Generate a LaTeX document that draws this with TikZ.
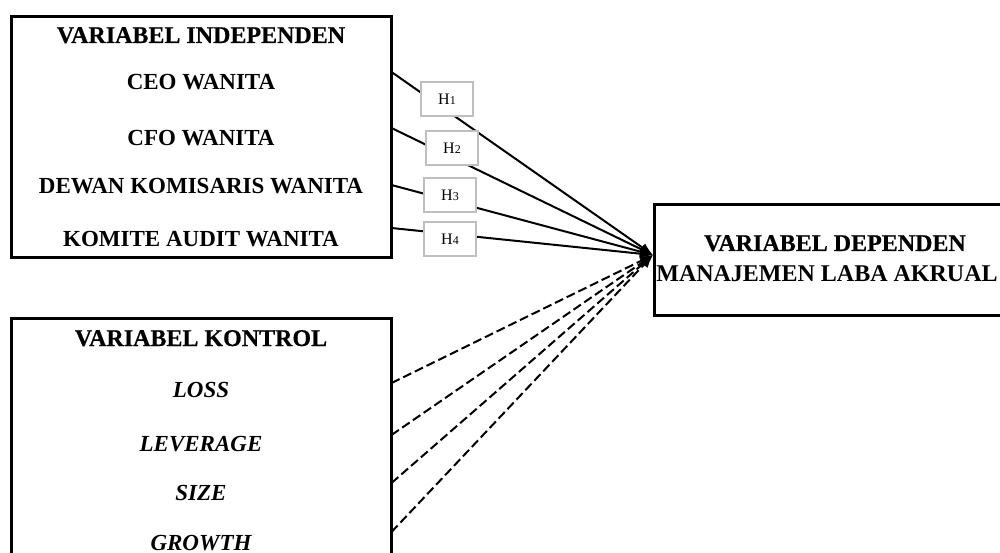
\documentclass[tikz,border=0pt]{standalone}
\usepackage{fontspec}
\setmainfont{Liberation Serif}
\newfontfamily\heavyfont{Liberation Serif}[FakeBold=0.5]
\usetikzlibrary{arrows.meta}
\begin{document}
\begin{tikzpicture}[x=1pt,y=-1pt,
  bigbox/.style={draw=black, line width=3pt, inner sep=0pt},
  hbox/.style={draw=black!25, line width=2pt, fill=white, minimum width=52pt, minimum height=34pt, inner sep=0pt, font=\fontsize{16}{16}\selectfont},
  head/.style={anchor=base, inner sep=0pt, font=\fontsize{24}{24}\selectfont\heavyfont\bfseries},
  item/.style={anchor=base, inner sep=0pt, font=\fontsize{23}{23}\selectfont\bfseries},
  ctrl/.style={anchor=base, inner sep=0pt, font=\fontsize{23}{23}\selectfont\bfseries\itshape},
  conn/.style={line width=2pt, -{Latex[length=13pt,width=10pt]}},
  dconn/.style={conn, dash pattern=on 9pt off 4pt}]
\useasboundingbox (0,0) rectangle (1000,553);

% boxes
\node[bigbox, minimum width=380pt, minimum height=241pt] (indep) at (201.5,137) {};
\node[bigbox, minimum width=380pt, minimum height=282pt] (kontrol) at (201.5,459.5) {};
\node[bigbox, minimum width=356pt, minimum height=111pt] (dep) at (832.5,260) {};

% independent texts
\node[head] (th1) at (201,43) {VARIABEL INDEPENDEN};
\node[item] (ceo) at (201,90) {CEO WANITA};
\node[item] (cfo) at (201,146) {CFO WANITA};
\node[item] (dkw) at (201,194) {DEWAN KOMISARIS WANITA};
\node[item] (kaw) at (201,247) {KOMITE AUDIT WANITA};

% control texts
\node[head] (th2) at (201,346) {VARIABEL KONTROL};
\node[ctrl] (loss) at (201,397) {LOSS};
\node[ctrl] (lev) at (201,451) {LEVERAGE};
\node[ctrl] (size) at (201,500) {SIZE};
\node[ctrl] (growth) at (201,550) {GROWTH};

% dependent texts
\node[head] (th3) at (835,251) {VARIABEL DEPENDEN};
\node[item, font=\fontsize{24}{24}\selectfont\bfseries] (mla) at (827,281) {MANAJEMEN LABA AKRUAL};

% connector ends
\coordinate (tip) at (653,255);
\coordinate (s1) at (391.5,72);
\coordinate (s2) at (391.5,128);
\coordinate (s3) at (391.5,185);
\coordinate (s4) at (391.5,228);
\coordinate (c1) at (391.5,383);
\coordinate (c2) at (391.5,435);
\coordinate (c3) at (391.5,483);
\coordinate (c4) at (391.5,532);

\draw[conn] (s1) -- (tip);
\draw[conn] (s2) -- (tip);
\draw[conn] (s3) -- (tip);
\draw[conn] (s4) -- (tip);
\draw[dconn] (c1) -- (tip);
\draw[dconn] (c2) -- (tip);
\draw[dconn] (c3) -- (tip);
\draw[dconn] (c4) -- (tip);

% hypothesis labels
\node[hbox] (h1) at (447,99.5) {H{\fontsize{12}{12}\selectfont 1}};
\node[hbox] (h2) at (452,148) {H{\fontsize{12}{12}\selectfont 2}};
\node[hbox] (h3) at (450,195) {H{\fontsize{12}{12}\selectfont 3}};
\node[hbox] (h4) at (450,239) {H{\fontsize{12}{12}\selectfont 4}};
\end{tikzpicture}
\end{document}
